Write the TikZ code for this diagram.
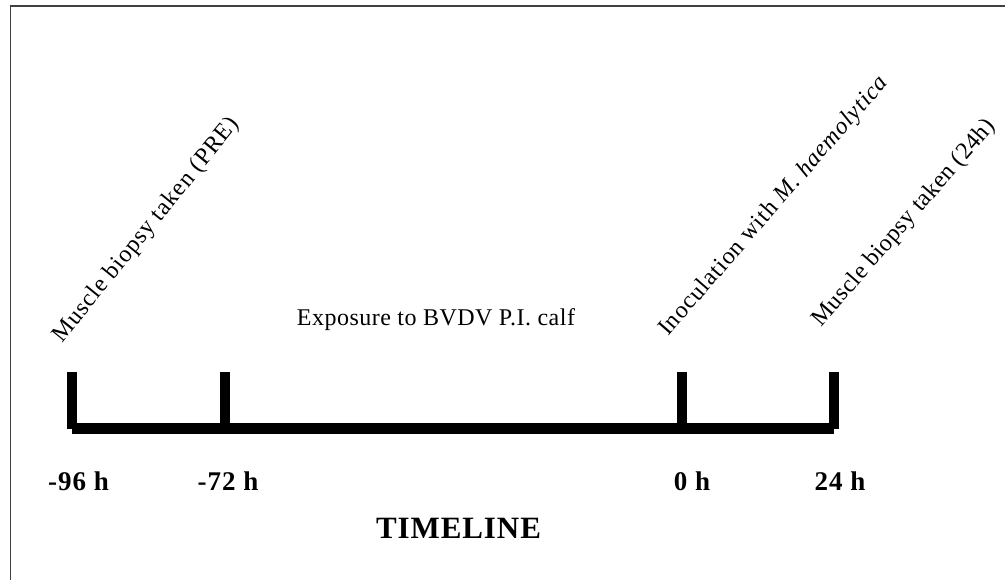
\documentclass[tikz,border=0pt]{standalone}
\usepackage{fontspec}
\setmainfont{Liberation Serif}
\newfontfamily\notefont[LetterSpace=3.5]{Liberation Serif}
\newfontfamily\tightnotefont[LetterSpace=2]{Liberation Serif}
\newfontfamily\spanfont[LetterSpace=2]{Liberation Serif}
\newfontfamily\hourfont[LetterSpace=4]{Liberation Serif}
\newfontfamily\titlefont[LetterSpace=3]{Liberation Serif}
\begin{document}
\begin{tikzpicture}[x=1pt,y=-1pt,
  frame/.style={draw=black!75, line width=1.5pt},
  tickbar/.style={line width=10pt, line cap=butt},
  axisbar/.style={line width=11pt, line cap=butt},
  event/.style={anchor=base west, inner sep=0pt,
    font=\notefont\fontsize{24}{24}\selectfont},
  spanlabel/.style={anchor=base, inner sep=0pt,
    font=\spanfont\fontsize{24}{24}\selectfont},
  hourlabel/.style={anchor=base, inner sep=0pt,
    font=\hourfont\bfseries\fontsize{27}{27}\selectfont},
  titlelabel/.style={anchor=base, inner sep=0pt,
    font=\titlefont\bfseries\fontsize{31}{31}\selectfont}]
  \useasboundingbox (0,0) rectangle (1005,580);
  % outer frame (bottom and right edges fall outside the page)
  \draw[frame] (10.5,6) rectangle (1007,600);

  % time axis
  \coordinate (a0) at (72,428.5);
  \coordinate (a1) at (834,428.5);
  \draw[axisbar] (a0) -- (a1);

  % tick marks
  \foreach \n/\x in {m96/72, m72/225, z0/682, p24/834}{
    \coordinate (\n top) at (\x,372);
    \coordinate (\n bot) at (\x,428.5);
    \draw[tickbar] (\n top) -- (\n bot);
  }

  % hour labels
  \node[hourlabel] (lm96) at (78.5,490) {-96 h};
  \node[hourlabel] (lm72) at (228,490) {-72 h};
  \node[hourlabel] (lz0)  at (692,490) {0 h};
  \node[hourlabel] (lp24) at (840,490) {24 h};

  \node[titlelabel] (title) at (458.5,538) {TIMELINE};

  % exposure period
  \node[spanlabel] (expo) at (436,326) {Exposure to BVDV P.I. calf};

  % events
  \node[event, rotate=51] (pre)  at (62,344)  {Muscle biopsy taken (PRE)};
  \node[event, rotate=49] (inoc) at (668,337) {Inoculation with \textit{M. haemolytica}};
  \node[event, rotate=49, font=\tightnotefont\fontsize{24}{24}\selectfont]
    (post) at (821,328) {Muscle biopsy taken (24h)};
\end{tikzpicture}
\end{document}
